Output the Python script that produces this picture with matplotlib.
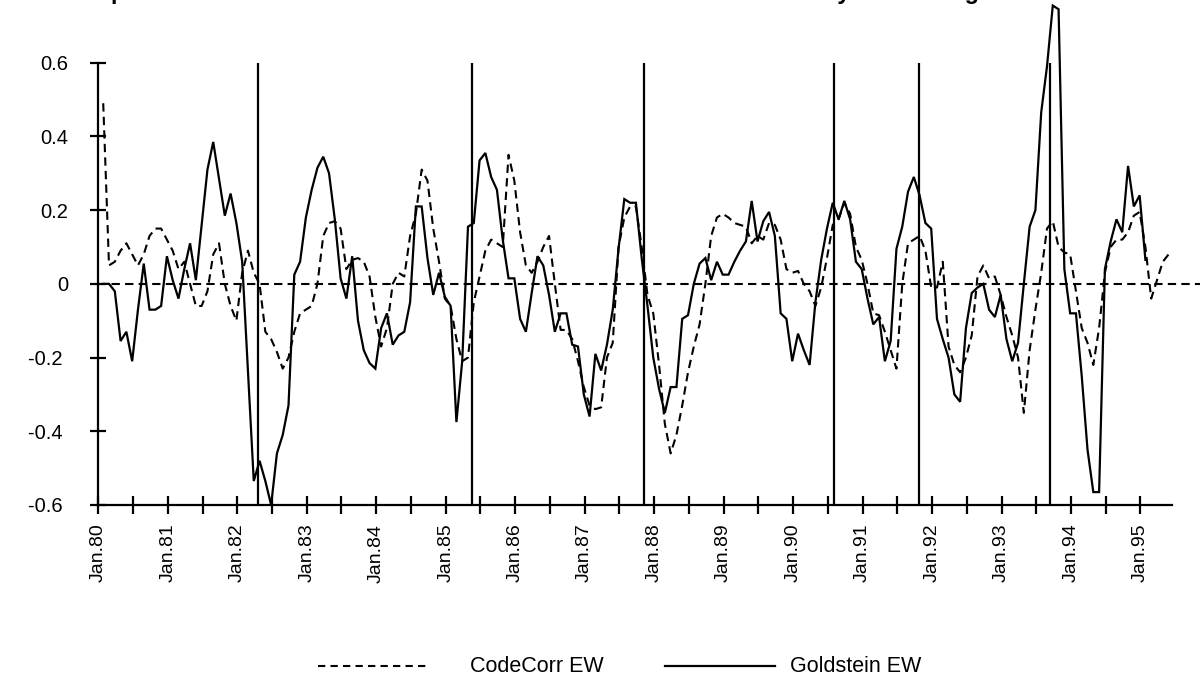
import numpy as np
import matplotlib
matplotlib.use("Agg")
import matplotlib.pyplot as plt
from matplotlib.lines import Line2D

plt.rcParams['font.family'] = ['Liberation Sans', 'DejaVu Sans']

# ---------------- data (monthly, Jan 1980 onward) ----------------
codecorr_ew = [
    0.49, 0.05, 0.06, 0.09, 0.11, 0.08, 0.05, 0.08, 0.13, 0.15,
    0.15, 0.12, 0.09, 0.04, 0.06, 0.00, -0.06, -0.06, -0.02, 0.08,
    0.11, 0.00, -0.06, -0.10, 0.03, 0.09, 0.03, 0.00, -0.13, -0.15,
    -0.185, -0.23, -0.20, -0.13, -0.08, -0.07, -0.06, 0.00, 0.13, 0.165,
    0.17, 0.15, 0.04, 0.065, 0.07, 0.06, 0.02, -0.09, -0.17, -0.12,
    0.00, 0.03, 0.02, 0.13, 0.19, 0.31, 0.28, 0.15, 0.06, -0.04,
    -0.06, -0.15, -0.21, -0.20, -0.05, 0.02, 0.09, 0.12, 0.11, 0.10,
    0.35, 0.28, 0.14, 0.05, 0.03, 0.06, 0.10, 0.13, 0.00, -0.125,
    -0.125, -0.15, -0.21, -0.28, -0.33, -0.34, -0.335, -0.20, -0.16, 0.10,
    0.18, 0.21, 0.21, 0.10, -0.03, -0.08, -0.22, -0.38, -0.46, -0.41,
    -0.33, -0.24, -0.17, -0.11, 0.00, 0.13, 0.18, 0.19, 0.18, 0.165,
    0.16, 0.155, 0.11, 0.13, 0.12, 0.165, 0.16, 0.12, 0.04, 0.03,
    0.035, 0.00, -0.02, -0.06, -0.01, 0.07, 0.16, 0.175, 0.22, 0.19,
    0.10, 0.065, 0.00, -0.08, -0.085, -0.13, -0.18, -0.23, 0.00, 0.11,
    0.12, 0.13, 0.09, -0.01, -0.01, 0.06, -0.17, -0.22, -0.24, -0.20,
    -0.14, 0.02, 0.05, 0.015, 0.02, -0.03, -0.09, -0.14, -0.20, -0.35,
    -0.18, -0.07, 0.03, 0.15, 0.17, 0.10, 0.085, 0.08, -0.02, -0.12,
    -0.16, -0.22, -0.12, 0.03, 0.10, 0.12, 0.12, 0.14, 0.185, 0.195,
    0.10, -0.04, 0.01, 0.06, 0.08,
]

goldstein_ew = [
    0.00, 0.00, -0.02, -0.155, -0.13, -0.21, -0.07, 0.055, -0.07, -0.07,
    -0.06, 0.075, 0.01, -0.04, 0.04, 0.11, 0.01, 0.16, 0.31, 0.385,
    0.285, 0.185, 0.245, 0.165, 0.06, -0.24, -0.535, -0.48, -0.535, -0.60,
    -0.46, -0.41, -0.33, 0.025, 0.06, 0.18, 0.255, 0.315, 0.345, 0.30,
    0.175, 0.015, -0.04, 0.075, -0.10, -0.18, -0.215, -0.23, -0.12, -0.08,
    -0.165, -0.14, -0.13, -0.05, 0.21, 0.21, 0.07, -0.03, 0.03, -0.035,
    -0.06, -0.375, -0.21, 0.155, 0.165, 0.335, 0.355, 0.29, 0.255, 0.12,
    0.015, 0.015, -0.095, -0.13, -0.025, 0.075, 0.05, -0.03, -0.13, -0.08,
    -0.08, -0.165, -0.17, -0.30, -0.36, -0.19, -0.235, -0.165, -0.07, 0.095,
    0.23, 0.22, 0.22, 0.07, -0.06, -0.20, -0.285, -0.35, -0.28, -0.28,
    -0.095, -0.085, 0.00, 0.055, 0.07, 0.01, 0.06, 0.025, 0.025, 0.06,
    0.09, 0.115, 0.225, 0.115, 0.17, 0.195, 0.13, -0.08, -0.095, -0.21,
    -0.135, -0.18, -0.22, -0.05, 0.065, 0.15, 0.22, 0.175, 0.225, 0.175,
    0.06, 0.04, -0.04, -0.11, -0.09, -0.21, -0.155, 0.095, 0.155, 0.25,
    0.29, 0.24, 0.165, 0.15, -0.095, -0.15, -0.20, -0.30, -0.32, -0.12,
    -0.025, -0.01, 0.00, -0.07, -0.09, -0.03, -0.15, -0.21, -0.16, 0.00,
    0.155, 0.20, 0.465, 0.59, 0.755, 0.745, 0.04, -0.08, -0.08, -0.25,
    -0.45, -0.565, -0.565, 0.04, 0.115, 0.175, 0.14, 0.32, 0.21, 0.24,
    0.065,
]

# event markers (months since Jan 1980, position on the category axis)
event_months = [27.6, 64.5, 94.3, 127.1, 141.8, 164.4]

years = list(range(80, 96))
tick_labels_x = [f"Jan.{y}" for y in years]
y_ticks = [-0.6, -0.4, -0.2, 0.0, 0.2, 0.4, 0.6]
y_tick_labels = ["-0.6 ", "-0.4 ", "-0.2 ", "0", "0.2", "0.4", "0.6"]
series_names = ["CodeCorr EW", "Goldstein EW"]

title_text = "Comparison of CodeCorr and Goldstein EW Series Normalized Monthly Smoothing"

# ---------------- figure ----------------
W, H = 1204, 689
fig = plt.figure(figsize=(W / 100, H / 100), dpi=100)
ax_left, ax_right, ax_top, ax_bot = 98.3, 1172.0, 62.7, 505.0
ax = fig.add_axes([ax_left / W, (H - ax_bot) / H, (ax_right - ax_left) / W, (ax_bot - ax_top) / H])

x_cc = np.arange(len(codecorr_ew)) + 0.85
x_gs = np.arange(len(goldstein_ew)) + 0.85

dash = (0, (4, 2.5))
ax.plot(x_cc, codecorr_ew, color='black', lw=1.5, linestyle=dash, zorder=3)
ax.plot(x_gs, goldstein_ew, color='black', lw=1.6, solid_joinstyle='miter', zorder=4, clip_on=False)

px_per_month = 5.79
x_max = (ax_right - ax_left) / px_per_month
# zero reference line (extends past the axis end, as in the original)
ax.plot([0, x_max + (1200 - ax_right) / px_per_month], [0, 0], color='black', lw=1.5,
        linestyle=dash, clip_on=False, zorder=2)

ax.vlines(event_months, -0.6, 0.6, color='black', lw=1.6, zorder=5)

ax.set_xlim(0, x_max)
ax.set_ylim(-0.6, 0.6)

for s in ['top', 'right']:
    ax.spines[s].set_visible(False)
for s in ['left', 'bottom']:
    ax.spines[s].set_linewidth(1.6)
    ax.spines[s].set_zorder(6)

xt = np.arange(0, 181, 6)
ax.set_xticks(xt)
ax.set_xticklabels([tick_labels_x[i // 12] if i % 12 == 0 else "" for i in xt],
                   rotation=90, fontsize=14, va='top', ha='center')
ax.tick_params(axis='x', direction='inout', length=13, width=1.6, pad=7)
ax.set_yticks(y_ticks)
ax.set_yticklabels(y_tick_labels, fontsize=14.5)
ax.tick_params(axis='y', direction='inout', length=11.5, width=1.6, pad=15.7)

# title (partly outside the canvas, as in the source image)
fig.text(59 / W, 1 + 1.5 / H, title_text, fontsize=16.8, fontweight='bold',
         ha='left', va='baseline')

# legend drawn as in the original (entries with their own spacing)
leg_y = 1 - 666 / H
fig.add_artist(Line2D([318 / W, 430 / W], [leg_y, leg_y], color='black', lw=1.5,
                      linestyle=(0, (3.5, 2.5)), transform=fig.transFigure))
fig.text(470 / W, leg_y, series_names[0], fontsize=15.5, ha='left', va='center')
fig.add_artist(Line2D([665 / W, 775 / W], [leg_y, leg_y], color='black', lw=1.6,
                      transform=fig.transFigure))
fig.text(790 / W, leg_y, series_names[1], fontsize=15.5, ha='left', va='center')

fig.savefig("out.png", dpi=100)
